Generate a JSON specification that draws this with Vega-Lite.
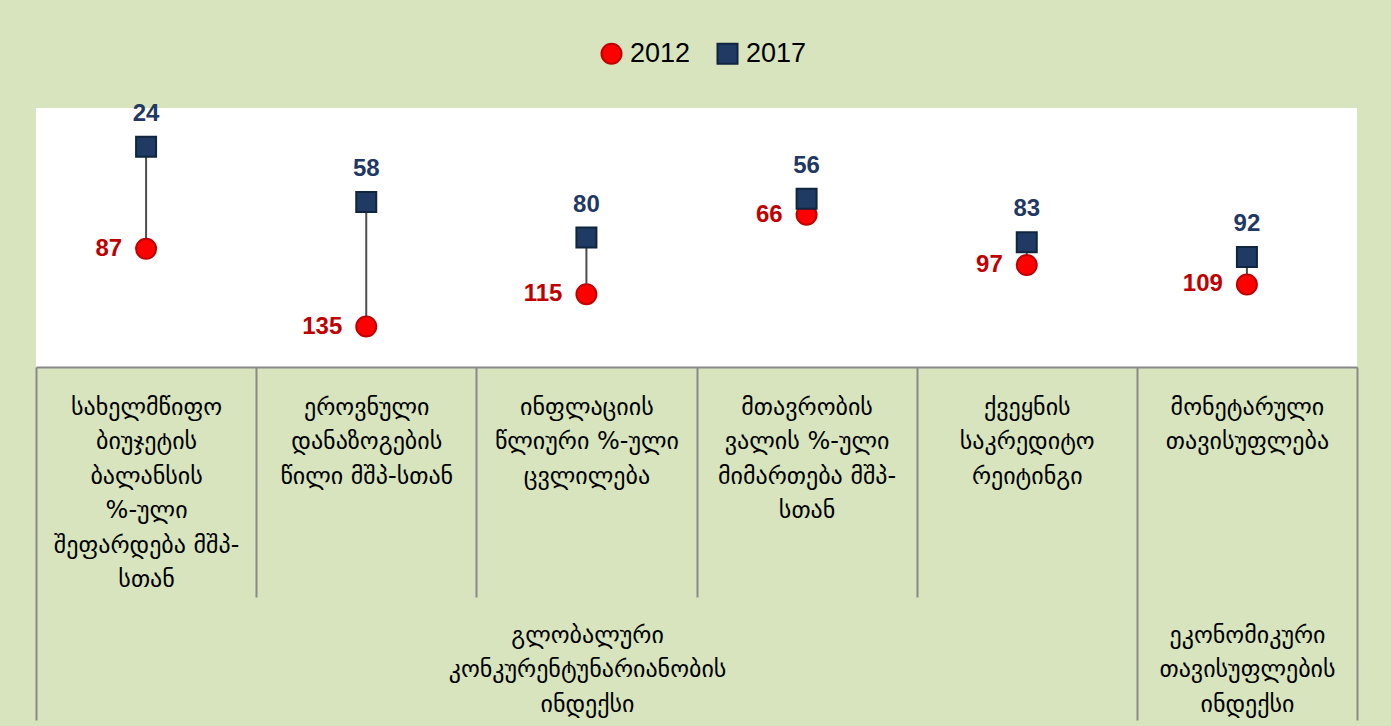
{
  "$schema": "https://vega.github.io/schema/vega-lite/v6.json",
  "width": 1321,
  "height": 259,
  "autosize": {"type": "none"},
  "padding": {"left": 36, "top": 108, "right": 34, "bottom": 359},
  "background": "#D7E4BD",
  "config": {"view": {"fill": "#FFFFFF", "stroke": null}},
  "data": {
    "values": [
      {"cat": "სახელმწიფო|ბიუჯეტის|ბალანსის|%-ული|შეფარდება მშპ-|სთან", "year": "2012", "value": 87},
      {"cat": "სახელმწიფო|ბიუჯეტის|ბალანსის|%-ული|შეფარდება მშპ-|სთან", "year": "2017", "value": 24},
      {"cat": "ეროვნული|დანაზოგების|წილი მშპ-სთან", "year": "2012", "value": 135},
      {"cat": "ეროვნული|დანაზოგების|წილი მშპ-სთან", "year": "2017", "value": 58},
      {"cat": "ინფლაციის|წლიური %-ული|ცვლილება", "year": "2012", "value": 115},
      {"cat": "ინფლაციის|წლიური %-ული|ცვლილება", "year": "2017", "value": 80},
      {"cat": "მთავრობის|ვალის %-ული|მიმართება მშპ-|სთან", "year": "2012", "value": 66},
      {"cat": "მთავრობის|ვალის %-ული|მიმართება მშპ-|სთან", "year": "2017", "value": 56},
      {"cat": "ქვეყნის|საკრედიტო|რეიტინგი", "year": "2012", "value": 97},
      {"cat": "ქვეყნის|საკრედიტო|რეიტინგი", "year": "2017", "value": 83},
      {"cat": "მონეტარული|თავისუფლება", "year": "2012", "value": 109},
      {"cat": "მონეტარული|თავისუფლება", "year": "2017", "value": 92}
    ]
  },
  "encoding": {
    "x": {
      "field": "cat", "type": "nominal", "sort": null,
      "scale": {"paddingInner": 0, "paddingOuter": 0},
      "axis": {
        "title": ["გლობალური", "კონკურენტუნარიანობის", "ინდექსი"],
        "titleX": 551, "titleY": 256, "titleAlign": "center", "titleBaseline": "top", "titleAngle": 0,
        "titleFont": "DejaVu Sans", "titleFontSize": 24, "titleFontWeight": "normal", "titleColor": "#000000",
        "titleLineHeight": 34.5, "titleLimit": 0,
        "orient": "bottom", "labelAngle": 0,
        "domainColor": "#898989", "domainWidth": 2,
        "tickBand": "extent", "tickColor": "#898989", "tickWidth": 2,
        "tickSize": {"condition": {"test": "datum.index == -1 || indexof('' + datum.value, 'ქვეყნის') == 0 || indexof('' + datum.value, 'მონეტარული') == 0", "value": 353}, "value": 230},
        "labelExpr": "split(datum.label, '|')",
        "labelFont": "DejaVu Sans", "labelFontSize": 24, "labelColor": "#000000",
        "labelLineHeight": 34.5, "labelBaseline": "top",
        "labelPadding": {"condition": {"test": "indexof('' + datum.value, 'ქვეყნის') == 0 || indexof('' + datum.value, 'მონეტარული') == 0", "value": -325}, "value": -202},
        "labelLimit": 0, "labelOverlap": false, "labelBound": false, "labelFlush": false
      }
    }
  },
  "layer": [
    {
      "mark": {"type": "rule", "color": "#4D4D4D", "strokeWidth": 2},
      "encoding": {
        "y": {
          "aggregate": "min", "field": "value", "type": "quantitative",
          "scale": {"domain": [0, 160], "reverse": true},
          "axis": {
            "domain": false, "ticks": false, "labels": false, "grid": false,
            "title": ["ეკონომიკური", "თავისუფლების", "ინდექსი"],
            "titleX": 1211, "titleY": 515, "titleAlign": "center", "titleBaseline": "top", "titleAngle": 0,
            "titleFont": "DejaVu Sans", "titleFontSize": 24, "titleFontWeight": "normal", "titleColor": "#000000",
            "titleLineHeight": 34.5, "titleLimit": 0
          }
        },
        "y2": {"aggregate": "max", "field": "value"}
      }
    },
    {
      "mark": {"type": "point", "filled": true, "size": 400, "strokeWidth": 2, "opacity": 1},
      "encoding": {
        "y": {"field": "value", "type": "quantitative"},
        "fill": {
          "field": "year", "type": "nominal",
          "scale": {"domain": ["2012", "2017"], "range": ["#FF0000", "#1F3A63"]},
          "legend": {"orient": "none", "legendX": 562, "legendY": -68, "direction": "horizontal", "title": null,
            "labelFont": "Liberation Sans", "labelFontSize": 27, "labelColor": "#000000",
            "symbolSize": 400, "symbolStrokeWidth": 2, "columnPadding": 22, "labelOffset": 5}
        },
        "stroke": {
          "field": "year", "type": "nominal",
          "scale": {"domain": ["2012", "2017"], "range": ["#C00000", "#10253F"]},
          "legend": {"orient": "none", "legendX": 562, "legendY": -68, "direction": "horizontal", "title": null,
            "labelFont": "Liberation Sans", "labelFontSize": 27, "labelColor": "#000000",
            "symbolSize": 400, "symbolStrokeWidth": 2, "columnPadding": 22, "labelOffset": 5}
        },
        "shape": {
          "field": "year", "type": "nominal",
          "scale": {"domain": ["2012", "2017"], "range": ["circle", "square"]},
          "legend": {"orient": "none", "legendX": 562, "legendY": -68, "direction": "horizontal", "title": null,
            "labelFont": "Liberation Sans", "labelFontSize": 27, "labelColor": "#000000",
            "symbolSize": 400, "symbolStrokeWidth": 2, "columnPadding": 22, "labelOffset": 5}
        }
      }
    },
    {
      "transform": [{"filter": "datum.year == '2017'"}],
      "mark": {"type": "text", "font": "Liberation Sans", "fontWeight": "bold", "fontSize": 24, "color": "#1F3864", "align": "center", "baseline": "alphabetic", "dy": -26},
      "encoding": {
        "y": {"field": "value", "type": "quantitative"},
        "text": {"field": "value", "type": "quantitative"}
      }
    },
    {
      "transform": [{"filter": "datum.year == '2012'"}],
      "mark": {"type": "text", "font": "Liberation Sans", "fontWeight": "bold", "fontSize": 24, "color": "#C00000", "align": "right", "baseline": "middle", "dx": -24},
      "encoding": {
        "y": {"field": "value", "type": "quantitative"},
        "text": {"field": "value", "type": "quantitative"}
      }
    }
  ]
}
